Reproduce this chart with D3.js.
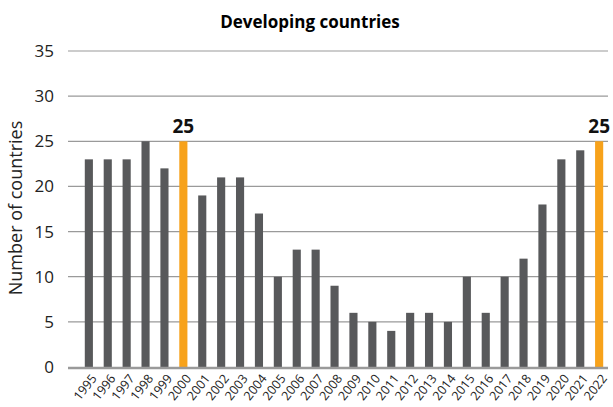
<!DOCTYPE html>
<html><head><meta charset="utf-8">
<script src="https://cdn.jsdelivr.net/npm/d3@7"></script>
<style>body{margin:0;background:#fff}svg{display:block;font-family:"Open Sans",sans-serif}</style>
</head><body><svg id="c" width="613" height="407"></svg>
<script>
const years = ["1995","1996","1997","1998","1999","2000","2001","2002","2003","2004","2005","2006","2007","2008","2009","2010","2011","2012","2013","2014","2015","2016","2017","2018","2019","2020","2021","2022"];
const counts = [23,23,23,25,22,25,19,21,21,17,10,13,13,9,6,5,4,6,6,5,10,6,10,12,18,23,24,25];
const highlighted = ["2000","2022"];
const yTicks = [0,5,10,15,20,25,30,35];
const title = "Developing countries";
const yTitle = "Number of countries";

const svg = d3.select("#c");
const x = d3.scaleBand().domain(years).range([79.5, 608.5]).paddingInner(0.57).paddingOuter(0.28);
const y = d3.scaleLinear().domain([0,35]).range([367,51]);
const gridX0 = 68, gridX1 = 608;

svg.append("text").attr("x",310).attr("y",28).attr("text-anchor","middle")
  .attr("font-weight","bold").attr("font-size",17).attr("fill","#000").text(title);

const ga = svg.append("g");
yTicks.forEach(t=>{
  if(t>0) ga.append("line").attr("x1",gridX0).attr("x2",gridX1).attr("y1",y(t)).attr("y2",y(t))
    .attr("stroke","#9a9a9a").attr("stroke-width",1.2);
  ga.append("text").attr("x",54).attr("y",y(t)).attr("dy","0.35em").attr("text-anchor","end")
    .attr("font-size",17).attr("fill","#222").text(t);
});

svg.append("text").attr("transform","translate(22,208) rotate(-90)").attr("text-anchor","middle")
  .attr("font-size",18).attr("fill","#222").text(yTitle);

svg.selectAll("rect.bar").data(years).enter().append("rect")
  .attr("x",d=>x(d)).attr("width",x.bandwidth())
  .attr("y",(d,i)=>y(counts[i])).attr("height",(d,i)=>y(0)-y(counts[i]))
  .attr("fill",d=>highlighted.includes(d)?"#f7a21b":"#58595b");

svg.append("line").attr("x1",gridX0).attr("x2",gridX1).attr("y1",y(0)+1).attr("y2",y(0)+1)
  .attr("stroke","#9a9a9a").attr("stroke-width",2.5);

highlighted.forEach(h=>{
  const i = years.indexOf(h);
  svg.append("text").attr("x",x(h)+x.bandwidth()/2).attr("y",y(counts[i])-8)
    .attr("text-anchor","middle").attr("font-weight","bold").attr("font-size",19).attr("fill","#111").text(counts[i]);
});

years.forEach(yr=>{
  const cx = x(yr)+x.bandwidth()/2;
  svg.append("text").attr("transform",`translate(${cx+5},${y(0)+9}) rotate(-52)`)
    .attr("text-anchor","end").attr("dy","0.35em").attr("font-size",12.5).attr("fill","#222").text(yr);
});
</script></body></html>
